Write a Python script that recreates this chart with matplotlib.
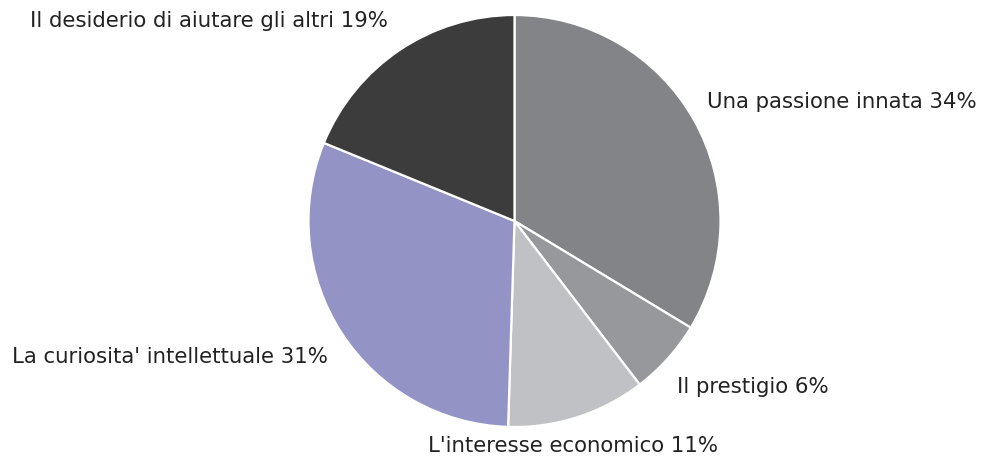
import matplotlib.pyplot as plt

# slices in clockwise order starting from 12 o'clock
labels = [
    "Una passione innata",
    "Il prestigio",
    "L'interesse economico",
    "La curiosita' intellettuale",
    "Il desiderio di aiutare gli altri",
]
shares = [34, 6, 11, 31, 19]
colors = ["#838487", "#97989b", "#c0c1c4", "#9493c6", "#3c3c3d"]

# label anchors (data units, pie radius = 1, y = baseline) and alignment
label_pos = [(0.934, 0.547), (0.789, -0.835), (-0.420, -1.121), (-0.905, -0.689), (-0.614, 0.942)]
label_ha = ["left", "left", "left", "right", "right"]

W, H = 992, 458
cx, cy, r = 514.5, 221, 206

fig = plt.figure(figsize=(W / 100, H / 100), dpi=100)
fig.patch.set_facecolor("white")
ax = fig.add_axes([(cx - r) / W, (H - cy - r) / H, 2 * r / W, 2 * r / H])

ax.pie(
    shares,
    colors=colors,
    startangle=90,
    counterclock=False,
    radius=1,
    wedgeprops=dict(edgecolor="white", linewidth=1.6),
)
ax.set_xlim(-1, 1)
ax.set_ylim(-1, 1)
ax.set_aspect("equal")
ax.axis("off")

for lab, val, (x, y), ha in zip(labels, shares, label_pos, label_ha):
    ax.text(x, y, f"{lab} {val}%", ha=ha, va="baseline", fontsize=15.3,
            family=["DejaVu Sans"], color="#222222", clip_on=False)

fig.savefig("out.png", dpi=100)
